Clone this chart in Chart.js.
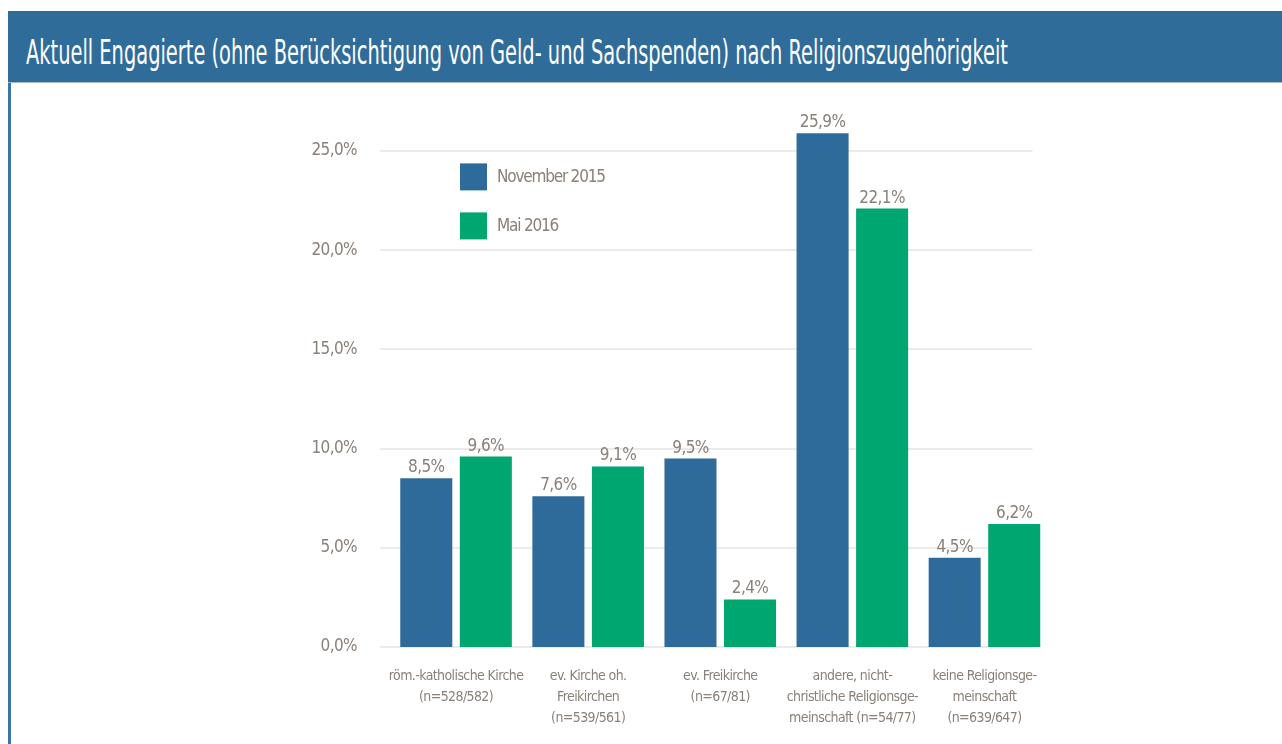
<!DOCTYPE html>
<html>
<head>
<meta charset="utf-8">
<script src="https://cdn.jsdelivr.net/npm/chart.js@4/dist/chart.umd.min.js"></script>
<style>
  html, body { margin:0; padding:0; background:#fff; width:1282px; height:744px; overflow:hidden; }
  #header { position:absolute; left:8px; top:11px; width:1274px; height:71px; background:#2f6c9a; border-bottom:1px solid #9fb8cf; }
  #title { position:absolute; left:18px; top:21px; color:#fff; font-family:'DejaVu Sans Condensed','DejaVu Sans',sans-serif; font-size:34px; line-height:normal; white-space:nowrap; transform-origin:left top; }
  #leftbar { position:absolute; left:8px; top:83px; width:3px; height:661px; background:#3a74a8; }
  #wrap { position:absolute; left:0; top:0; width:1282px; height:744px; }
</style>
</head>
<body>
<div id="header"><div id="title">Aktuell Engagierte (ohne Berücksichtigung von Geld- und Sachspenden) nach Religionszugehörigkeit</div></div>
<div id="leftbar"></div>
<div id="wrap"><canvas id="c" width="1282" height="744"></canvas></div>
<script>
const categories = [
  ["röm.-katholische Kirche", "(n=528/582)"],
  ["ev. Kirche oh.", "Freikirchen", "(n=539/561)"],
  ["ev. Freikirche", "(n=67/81)"],
  ["andere, nicht-", "christliche Religionsge-", "meinschaft (n=54/77)"],
  ["keine Religionsge-", "meinschaft", "(n=639/647)"]
];
const seriesNames = ["November 2015", "Mai 2016"];
const nov2015 = [8.5, 7.6, 9.5, 25.9, 4.5];
const mai2016 = [9.6, 9.1, 2.4, 22.1, 6.2];
const yTicks = [0, 5, 10, 15, 20, 25];

// fit title width
const t = document.getElementById('title');
t.style.transform = 'scaleX(' + (982 / t.scrollWidth) + ')';

const FONT = "'DejaVu Sans Condensed','DejaVu Sans',sans-serif";
const TXT = '#8a8178';
const fmt = v => v.toFixed(1).replace('.', ',') + '%';

const spacingPlugin = {
  id: 'spacing',
  beforeUpdate(chart) { chart.ctx.letterSpacing = '-0.6px'; },
  beforeDraw(chart) { chart.ctx.letterSpacing = '-0.6px'; }
};

// gridlines slightly inset from the category area, as in the original
const gridPlugin = {
  id: 'insetGrid',
  beforeDatasetsDraw(chart) {
    const ctx = chart.ctx, a = chart.chartArea, y = chart.scales.y;
    ctx.save();
    ctx.strokeStyle = '#ebebeb';
    ctx.lineWidth = 2;
    y.ticks.forEach(tk => {
      const py = Math.round(y.getPixelForValue(tk.value));
      ctx.beginPath();
      ctx.moveTo(a.left - 10, py);
      ctx.lineTo(a.right - 18, py);
      ctx.stroke();
    });
    ctx.restore();
  }
};

const labelPlugin = {
  id: 'extras',
  afterDatasetsDraw(chart) {
    const ctx = chart.ctx;
    ctx.save();
    ctx.letterSpacing = '-0.6px';
    ctx.font = '17px ' + FONT;
    ctx.fillStyle = TXT;
    ctx.textAlign = 'center';
    ctx.textBaseline = 'alphabetic';
    chart.data.datasets.forEach((ds, i) => {
      chart.getDatasetMeta(i).data.forEach((bar, j) => {
        ctx.fillText(fmt(ds.data[j]), bar.x, bar.y - 6);
      });
    });
    // legend
    const a = chart.chartArea;
    ctx.textAlign = 'left';
    ctx.textBaseline = 'middle';
    ctx.letterSpacing = '-1.2px';
    ctx.font = '17px ' + FONT;
    chart.data.datasets.forEach((ds, i) => {
      const bx = a.left + 70, by = a.top + 62 + i * 49;
      ctx.fillStyle = ds.backgroundColor;
      ctx.fillRect(bx, by, 27, 27);
      ctx.fillStyle = TXT;
      ctx.fillText(ds.label, bx + 37, by + 14);
    });
    ctx.restore();
  }
};

new Chart(document.getElementById('c'), {
  type: 'bar',
  data: {
    labels: categories,
    datasets: [
      { label: seriesNames[0], data: nov2015, backgroundColor: '#2f6b9a', barPercentage: 0.874, categoryPercentage: 0.9015 },
      { label: seriesNames[1], data: mai2016, backgroundColor: '#00a66f', barPercentage: 0.874, categoryPercentage: 0.9015 }
    ]
  },
  options: {
    responsive: false,
    animation: false,
    layout: { padding: { left: 0, right: 231.5, top: 101.4, bottom: 0 } },
    plugins: { legend: { display: false }, tooltip: { enabled: false } },
    scales: {
      x: {
        grid: { display: false, drawTicks: false },
        border: { display: false },
        ticks: { color: TXT, font: { family: FONT, size: 14, lineHeight: 1.5 }, padding: 19, maxRotation: 0, autoSkip: false },
        afterFit: s => { s.height = 97; }
      },
      y: {
        min: 0, max: 27.5,
        afterBuildTicks: s => { s.ticks = yTicks.map(v => ({ value: v })); },
        grid: { display: false, drawTicks: false },
        border: { display: false },
        ticks: { color: TXT, font: { family: FONT, size: 17 }, padding: 33, callback: v => fmt(v) },
        afterFit: s => { s.width = 390; }
      }
    }
  },
  plugins: [spacingPlugin, gridPlugin, labelPlugin]
});
</script>
</body>
</html>
